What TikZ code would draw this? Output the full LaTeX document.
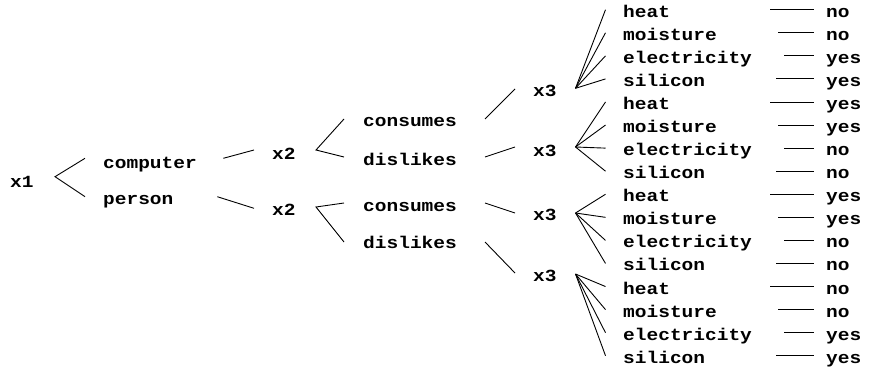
\documentclass[tikz,border=0pt]{standalone}
\usepackage{fontspec}
\newfontfamily\courbf[FakeStretch=1.147]{Liberation Mono}
\begin{document}
\begin{tikzpicture}[x=1pt,y=-1pt,
  lbl/.style={inner sep=0pt, anchor=base west,
    font=\courbf\bfseries\fontsize{17}{20}\selectfont},
  branch/.style={draw=black, line width=0.9pt}]
\useasboundingbox (0,0) rectangle (869,370);

% root and first split
\node[lbl] (x1) at (10,187) {x1};
\node[lbl] (computer) at (103,168) {computer};
\node[lbl] (person) at (103,204) {person};

% second level
\node[lbl] (x2a) at (272,159) {x2};
\node[lbl] (x2b) at (272,215) {x2};
\node[lbl] (conA) at (363,126.7) {consumes};
\node[lbl] (disA) at (363,165) {dislikes};
\node[lbl] (conB) at (363,211.7) {consumes};
\node[lbl] (disB) at (363,248.3) {dislikes};

% third level
\node[lbl] (x3a) at (533,96.7) {x3};
\node[lbl] (x3b) at (533,156) {x3};
\node[lbl] (x3c) at (533,220.3) {x3};
\node[lbl] (x3d) at (533,281.7) {x3};

% leaves with their answers
\foreach \i/\w/\a in {0/heat/no,1/moisture/no,2/electricity/yes,3/silicon/yes,
                      4/heat/yes,5/moisture/yes,6/electricity/no,7/silicon/no,
                      8/heat/yes,9/moisture/yes,10/electricity/no,11/silicon/no,
                      12/heat/no,13/moisture/no,14/electricity/yes,15/silicon/yes}{
  \node[lbl] (leaf\i) at (623,17.2+23.07*\i) {\w};
  \node[lbl] (ans\i) at (826,17.2+23.07*\i) {\a};
}

% x1 fan
\draw[branch] ([shift={(-18,-9.7)}]computer.base west) -- ([shift={(45,-10.3)}]x1.base west)
  -- ([shift={(-18,-7.3)}]person.base west);
% links to x2
\draw[branch] ([shift={(120.3,-9.7)}]computer.base west) -- ([shift={(-18,-9)}]x2a.base west);
\draw[branch] ([shift={(114.3,-7.3)}]person.base west) -- ([shift={(-18,-6.7)}]x2b.base west);
% x2 fans
\draw[branch] ([shift={(-19,-7.7)}]conA.base west) -- ([shift={(44,-9)}]x2a.base west)
  -- ([shift={(-19,-8)}]disA.base west);
\draw[branch] ([shift={(-19,-8.7)}]conB.base west) -- ([shift={(44,-8)}]x2b.base west)
  -- ([shift={(-19,-6.3)}]disB.base west);
% links to x3
\draw[branch] ([shift={(122,-7.7)}]conA.base west) -- ([shift={(-18,-7.7)}]x3a.base west);
\draw[branch] ([shift={(122,-8)}]disA.base west) -- ([shift={(-18,-9)}]x3b.base west);
\draw[branch] ([shift={(122,-8.7)}]conB.base west) -- ([shift={(-18,-7.3)}]x3c.base west);
\draw[branch] ([shift={(122,-6.3)}]disB.base west) -- ([shift={(-18,-8.7)}]x3d.base west);

% x3 fans
\foreach \p/\dy/\first in {x3a/-8.4/0, x3b/-9/4, x3c/-7.3/8, x3d/-7.7/12}{
  \foreach \k in {0,...,3}{
    \pgfmathtruncatemacro\n{\first+\k}
    \draw[branch] ([shift={(42.5,\dy)}]\p.base west) -- ([shift={(-17.5,-7.5)}]leaf\n.base west);
  }
}

% leaf-to-answer rules
\foreach \i in {0,...,15}{
  \pgfmathsetmacro\st{{-56,-48,-42,-50}[mod(\i,4)]}
  \draw[branch] ([shift={(\st,-7.5)}]ans\i.base west) -- ([shift={(-12,-7.5)}]ans\i.base west);
}
\end{tikzpicture}
\end{document}
